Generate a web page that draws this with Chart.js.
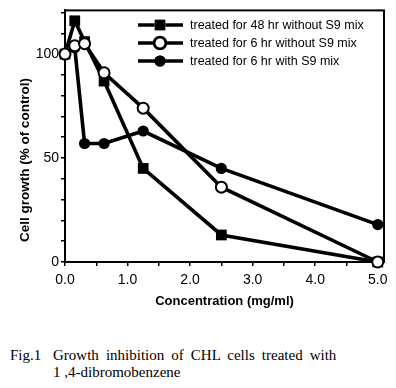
<!DOCTYPE html>
<html><head><meta charset="utf-8">
<script src="https://cdn.jsdelivr.net/npm/chart.js@4/dist/chart.umd.min.js"></script>
<style>
html,body{margin:0;padding:0;background:#fff;width:396px;height:388px;overflow:hidden;position:relative}
#c{position:absolute;left:0;top:0}
.cap{position:absolute;font-family:"Liberation Serif","Times New Roman",serif;font-size:15px;color:#000;white-space:nowrap;line-height:17px}
</style></head><body>
<canvas id="c" width="396" height="320"></canvas>
<div class="cap" style="left:10px;top:347px">Fig.1</div>
<div class="cap" style="left:53px;top:347px;word-spacing:3.3px">Growth inhibition of CHL cells treated with</div>
<div class="cap" style="left:53px;top:364px">1 ,4-dibromobenzene</div>
<script>
const concentrations = [0, 0.156, 0.313, 0.625, 1.25, 2.5, 5.0];
const treated48hrNoS9 = [100, 116, 106, 87, 45, 13, 0];
const treated6hrNoS9 = [100, 104, 105, 91, 74, 36, 0];
const treated6hrWithS9 = [100, 103, 57, 57, 63, 45, 18];
const seriesNames = ["treated for 48 hr without S9 mix", "treated for 6 hr without S9 mix", "treated for 6 hr with S9 mix"];
const xTickLabels = ["0.0", "1.0", "2.0", "3.0", "4.0", "5.0"];
const yTickLabels = ["0", "50", "100"];
const xTitle = "Concentration (mg/ml)";
const yTitle = "Cell growth (% of control)";

const toPts = ys => concentrations.map((x, i) => ({x: x, y: ys[i]}));

const markerStyles = [
  {pointStyle: 'rect', pointRadius: 7.6, pointBackgroundColor: '#000', pointBorderColor: '#000', pointBorderWidth: 0, order: 1},
  {pointStyle: 'circle', pointRadius: 5.5, pointBackgroundColor: '#fff', pointBorderColor: '#000', pointBorderWidth: 2, order: 0},
  {pointStyle: 'circle', pointRadius: 5.6, pointBackgroundColor: '#000', pointBorderColor: '#000', pointBorderWidth: 0, order: 2}
];
const seriesValues = [treated48hrNoS9, treated6hrNoS9, treated6hrWithS9];

const datasets = seriesValues.map((v, i) => Object.assign({
  label: seriesNames[i],
  data: toPts(v),
  borderColor: '#000',
  borderWidth: 3.6,
  showLine: true,
  tension: 0,
  clip: false,
  pointHoverRadius: 0
}, markerStyles[i]));

const frame = {
  id: 'frame',
  beforeDatasetsDraw(chart) {
    const {ctx, chartArea: a} = chart;
    ctx.save();
    ctx.strokeStyle = '#000';
    ctx.lineWidth = 2;
    ctx.strokeRect(a.left, a.top, a.right - a.left, a.bottom - a.top);
    ctx.restore();
  },
  afterDraw(chart) {
    const ctx = chart.ctx;
    ctx.save();
    ctx.translate(25, 160);
    ctx.rotate(-Math.PI / 2);
    ctx.font = 'bold 13.5px "Liberation Sans", Arial, sans-serif';
    ctx.fillStyle = '#000';
    ctx.textAlign = 'center';
    ctx.textBaseline = 'middle';
    ctx.fillText(yTitle, 0, 0);
    ctx.restore();
    ctx.save();
    chart.data.datasets.forEach((ds, i) => {
      const y = 25 + i * 18;
      ctx.strokeStyle = '#000';
      ctx.lineWidth = 3.6;
      ctx.beginPath(); ctx.moveTo(138, y); ctx.lineTo(183, y); ctx.stroke();
      Chart.helpers.drawPoint(ctx, {
        pointStyle: ds.pointStyle, radius: ds.pointRadius, rotation: 0,
        borderWidth: ds.pointBorderWidth
      }, 160, y);
      ctx.fillStyle = ds.pointBackgroundColor;
      ctx.strokeStyle = ds.pointBorderColor;
      ctx.lineWidth = ds.pointBorderWidth;
      ctx.fill();
      if (ds.pointBorderWidth) ctx.stroke();
      ctx.fillStyle = '#000';
      ctx.font = '12.5px "Liberation Sans", Arial, sans-serif';
      ctx.textAlign = 'left';
      ctx.textBaseline = 'middle';
      ctx.fillText(ds.label, 190, y + 0.5);
    });
    ctx.restore();
  }
};

new Chart(document.getElementById('c'), {
  type: 'line',
  data: {datasets},
  options: {
    responsive: false,
    animation: false,
    devicePixelRatio: 1,
    layout: {padding: {top: 5, right: 12, left: 0, bottom: 0}},
    plugins: {legend: {display: false}, tooltip: {enabled: false}},
    scales: {
      x: {
        type: 'linear', min: 0, max: 5.1,
        afterFit(s) { s.height = 58; },
        border: {display: true, color: '#000', width: 2},
        grid: {drawOnChartArea: false, drawTicks: true, tickLength: 4, color: '#000', lineWidth: 1.5},
        ticks: {
          stepSize: 0.5, includeBounds: false, maxRotation: 0, autoSkip: false, padding: 6,
          color: '#000', font: {family: '"Liberation Sans", Arial, sans-serif', size: 14},
          callback: v => (Math.abs(v - Math.round(v)) < 1e-9 ? xTickLabels[Math.round(v)] : '')
        },
        title: {display: true, text: xTitle, color: '#000', padding: {top: 0, bottom: 11},
          font: {family: '"Liberation Sans", Arial, sans-serif', size: 13, weight: 'bold'}}
      },
      y: {
        type: 'linear', min: 0, max: 121,
        afterFit(s) { s.width = 65; },
        border: {display: true, color: '#000', width: 2},
        grid: {drawOnChartArea: false, drawTicks: true, tickLength: 4, color: '#000', lineWidth: 1.5},
        ticks: {
          stepSize: 10, includeBounds: false, autoSkip: false, padding: 2,
          color: '#000', font: {family: '"Liberation Sans", Arial, sans-serif', size: 14},
          callback: v => (v % 50 === 0 ? yTickLabels[v / 50] : '')
        }
      }
    }
  },
  plugins: [frame]
});
</script>
</body></html>
